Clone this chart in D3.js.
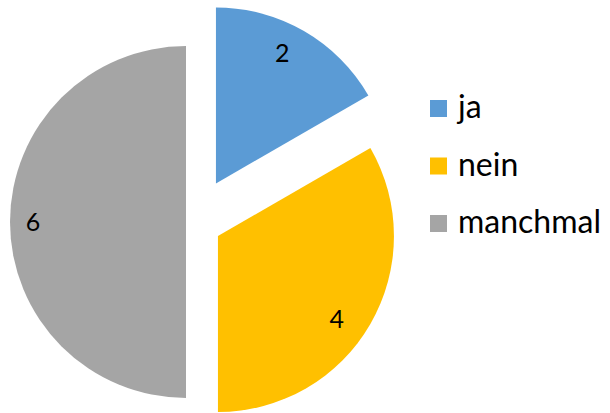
<!DOCTYPE html>
<html>
<head>
<meta charset="utf-8">
<script src="https://cdn.jsdelivr.net/npm/d3@7"></script>
<style>
  body { margin: 0; background: white; }
  text { font-family: Lato, "Open Sans", sans-serif; fill: #000; }
</style>
</head>
<body>
<svg id="pie"></svg>
<script>
const categories = ["ja", "nein", "manchmal"];
const values = [2, 4, 6];
const colors = ["#5B9BD5", "#FFC000", "#A5A5A5"];

const dimensions = {
    width: 610,
    height: 413,
    cx: 193.7,
    cy: 222,
    radius: 176
};
// how far each slice is pulled out of the centre
const explode = { ja: 44.5, nein: 28, manchmal: 7.7 };
// label placement (degrees nudge from mid angle, distance from slice tip), like Excel "best fit"
const labelPlace = {
    ja: { turn: -3, r: 146 },
    nein: { turn: 5, r: 145 },
    manchmal: { turn: 0, r: 153 }
};

const svg = d3.select("#pie")
    .attr("width", dimensions.width)
    .attr("height", dimensions.height);

const data = categories.map((c, i) => ({ category: c, value: values[i] }));

const pie = d3.pie()
    .sort(null)
    .value(d => d.value);

const arc = d3.arc()
    .innerRadius(0)
    .outerRadius(dimensions.radius);

const color = d3.scaleOrdinal()
    .domain(categories)
    .range(colors);

const midAngle = d => (d.startAngle + d.endAngle) / 2;

const offset = d => {
    const e = explode[d.data.category];
    return [Math.sin(midAngle(d)) * e, -Math.cos(midAngle(d)) * e];
};

const labelPos = d => {
    const p = labelPlace[d.data.category];
    const a = midAngle(d) + p.turn * Math.PI / 180;
    return [Math.sin(a) * p.r, -Math.cos(a) * p.r];
};

const slices = svg.append("g")
    .attr("transform", `translate(${dimensions.cx},${dimensions.cy})`)
    .selectAll("g")
    .data(pie(data))
    .enter()
    .append("g")
    .attr("transform", d => `translate(${offset(d)})`);

slices.append("path")
    .attr("d", arc)
    .attr("fill", d => color(d.data.category));

slices.append("text")
    .attr("transform", d => `translate(${labelPos(d)})`)
    .attr("text-anchor", "middle")
    .attr("dy", "0.36em")
    .style("font-size", "25px")
    .text(d => d.data.value);

const legend = svg.selectAll(".legend")
    .data(categories)
    .enter()
    .append("g")
    .attr("class", "legend")
    .attr("transform", (d, i) => `translate(430,${100 + i * 57.5})`);

legend.append("rect")
    .attr("width", 17)
    .attr("height", 17)
    .attr("fill", color);

legend.append("text")
    .attr("x", 28)
    .attr("y", 18)
    .style("font-size", "32px")
    .text(d => d);
</script>
</body>
</html>
